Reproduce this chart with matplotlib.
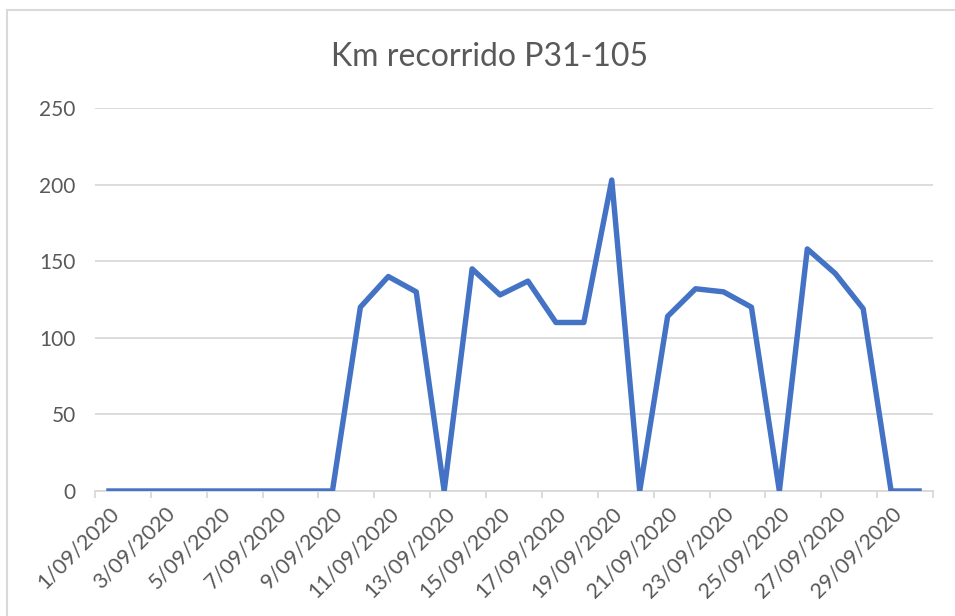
import matplotlib.pyplot as plt
from matplotlib.patches import Rectangle

# ------------------------- Data ---------------------------
dias = [f'{d}/09/2020' for d in range(1, 31)]
km = [0, 0, 0, 0, 0, 0, 0, 0, 0, 120,
      140, 130, 0, 145, 128, 137, 110, 110, 203, 0,
      114, 132, 130, 120, 0, 158, 142, 119, 0, 0]
titulo = 'Km recorrido P31-105'
y_ticks = [0, 50, 100, 150, 200, 250]
# ----------------------------------------------------------

plt.rcParams['font.family'] = ['Lato', 'DejaVu Sans']
gris = '#595959'
rejilla = '#D9D9D9'

fig = plt.figure(figsize=(9.55, 6.16), dpi=100)
W, H = 955, 616
# chart border (cropped on right/bottom)
fig.patches.append(Rectangle((7 / W, -0.1), 1.2, (H - 10) / H + 0.1,
                             transform=fig.transFigure, fill=False,
                             edgecolor=rejilla, linewidth=1.5))

ax = fig.add_axes([95 / W, (H - 491) / H, (933 - 95) / W, (491 - 108) / H])
x = list(range(len(km)))
ax.plot(x, km, color='#4472C4', linewidth=3.9, solid_joinstyle='round', zorder=3)

ax.set_xlim(-0.5, len(km) - 0.5)
ax.set_ylim(0, 250)
ax.set_yticks(y_ticks)
ax.yaxis.grid(True, color=rejilla, linewidth=1.3)
ax.set_axisbelow(True)
for s in ['top', 'right', 'left']:
    ax.spines[s].set_visible(False)
ax.spines['bottom'].set_color(rejilla)
ax.spines['bottom'].set_linewidth(1.3)
ax.tick_params(axis='y', length=0, pad=14, labelsize=15, labelcolor=gris)

# labels on every second day, tick marks at category boundaries
ax.set_xticks(x[::2])
ax.set_xticklabels(dias[::2], rotation=45, ha='right', rotation_mode='anchor')
ax.tick_params(axis='x', which='major', length=0, pad=9, labelsize=15.5, labelcolor=gris)
ax.set_xticks([i - 0.5 for i in range(0, len(km) + 1, 2)], minor=True)
ax.tick_params(axis='x', which='minor', length=5, width=1.3, color=rejilla)

fig.text(490 / W, 1 - 57 / H, titulo, ha='center', va='center', fontsize=23, color=gris)

plt.savefig('out.png', dpi=100)
plt.close()
